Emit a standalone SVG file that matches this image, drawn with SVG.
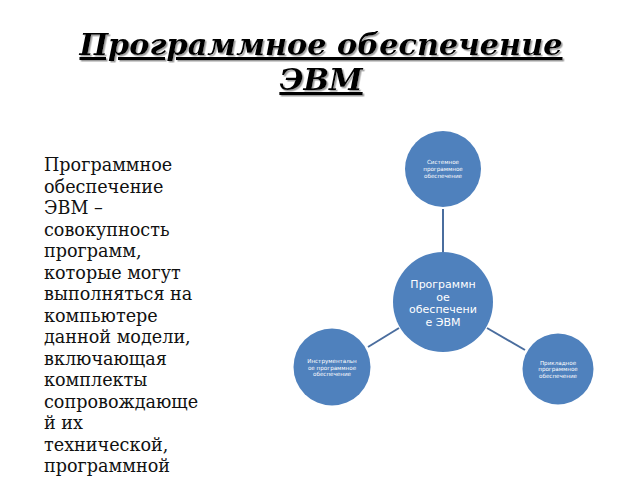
<svg xmlns="http://www.w3.org/2000/svg" width="640" height="480" viewBox="0 0 640 480">
<defs>
<filter id="shadow" x="-5%" y="-20%" width="110%" height="140%">
<feDropShadow dx="1.5" dy="1.5" stdDeviation="0.6" flood-color="#888" flood-opacity="0.8"/>
</filter>
</defs>
<style>
.title{font-family:"DejaVu Serif",serif;font-weight:bold;font-style:italic;font-size:30.3px;text-decoration:underline;text-anchor:middle;fill:#000}
.body{font-family:"DejaVu Serif",serif;font-size:17.6px;fill:#111}
.node{fill:#4f81bd}
.big{font-family:"DejaVu Sans",sans-serif;font-size:11px;fill:#fff;text-anchor:middle}
.small{font-family:"DejaVu Sans",sans-serif;font-size:5.6px;fill:#fff;text-anchor:middle}
.conn{stroke:#4a6d9e;stroke-width:2;fill:none}
</style>
<rect width="640" height="480" fill="#fff"/>
<g id="title" filter="url(#shadow)">
<text class="title" x="321" y="55">Программное обеспечение</text>
<text class="title" x="321" y="90">ЭВМ</text>
</g>
<g id="definition" class="body">
<text x="44" y="171">Программное</text>
<text x="44" y="192.5">обеспечение</text>
<text x="44" y="214">ЭВМ –</text>
<text x="44" y="235.5">совокупность</text>
<text x="44" y="257">программ,</text>
<text x="44" y="278.5">которые могут</text>
<text x="44" y="300">выполняться на</text>
<text x="44" y="321.5">компьютере</text>
<text x="44" y="343">данной модели,</text>
<text x="44" y="364.5">включающая</text>
<text x="44" y="386">комплекты</text>
<text x="44" y="407.5">сопровождающе</text>
<text x="44" y="429">й их</text>
<text x="44" y="450.5">технической,</text>
<text x="44" y="472">программной</text>
</g>
<g id="connectors">
<line class="conn" x1="443" y1="209" x2="443" y2="252"/>
<line class="conn" x1="368" y1="347" x2="399" y2="328"/>
<line class="conn" x1="487" y1="328" x2="525" y2="350"/>
</g>
<g id="center">
<circle class="node" cx="443" cy="302" r="50"/>
<text class="big" x="443" y="288">Программн</text>
<text class="big" x="443" y="301">ое</text>
<text class="big" x="443" y="313">обеспечени</text>
<text class="big" x="443" y="326">е ЭВМ</text>
</g>
<g id="system">
<circle class="node" cx="443" cy="169" r="38"/>
<text class="small" x="443" y="164">Системное</text>
<text class="small" x="443" y="171">программное</text>
<text class="small" x="443" y="178">обеспечение</text>
</g>
<g id="tools">
<circle class="node" cx="332" cy="367" r="38.5"/>
<text class="small" x="332" y="363">Инструментальн</text>
<text class="small" x="332" y="370">ое программное</text>
<text class="small" x="332" y="376">обеспечение</text>
</g>
<g id="applied">
<circle class="node" cx="558" cy="369" r="35.5"/>
<text class="small" x="558" y="365">Прикладное</text>
<text class="small" x="558" y="371">программное</text>
<text class="small" x="558" y="378">обеспечение</text>
</g>
</svg>
